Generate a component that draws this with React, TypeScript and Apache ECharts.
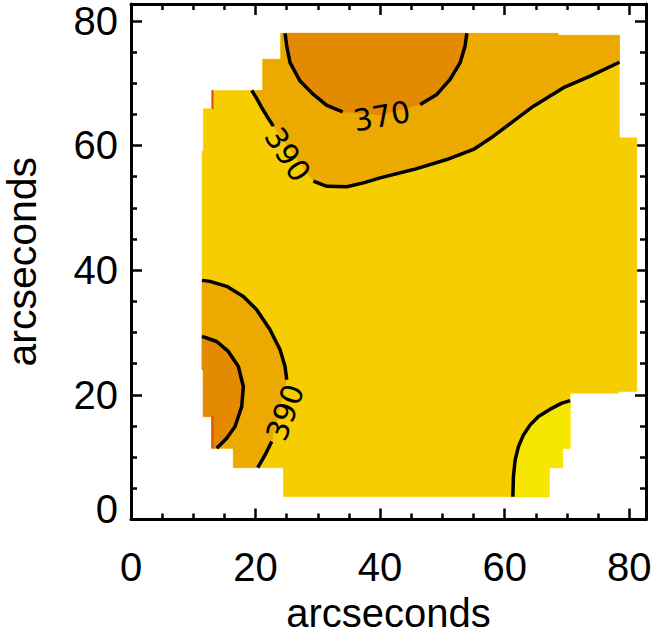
import React, { useEffect, useRef } from "react";
import * as echarts from "echarts";

// ---------- data (arcseconds) ----------
const AXIS_MIN = 0;
const AXIS_MAX = 82.7;
const TICK_INTERVAL = 20;

// contour levels
const levels = [370, 390, 410];

// outline of the area with data
const coverage: number[][] = [
  [24.05, 77.99], [68.59, 77.99], [68.59, 77.67], [78.44, 77.67], [78.44, 61.24],
  [81.24, 61.24], [81.24, 20.53], [78.28, 20.53], [78.28, 20.27], [70.52, 20.27],
  [70.52, 11.44], [69.29, 11.44], [69.29, 8.32], [67.15, 8.32], [67.15, 3.66],
  [24.47, 3.66], [24.47, 8.32], [16.43, 8.32], [16.43, 11.44], [12.96, 11.44],
  [12.96, 16.51], [11.61, 16.51], [11.61, 24.02], [11.41, 24.02], [11.41, 59.08],
  [11.61, 59.08], [11.61, 65.9], [12.96, 65.9], [12.96, 68.84], [21.16, 68.84],
  [21.16, 73.82], [24.05, 73.82],
];
const coverageTopCorner: number[][] = [
  [78.44, 77.67], [68.59, 77.67], [68.59, 77.99], [24.05, 77.99], [24.05, 73.82],
  [21.16, 73.82], [21.16, 68.84],
];
const coverageLeftCorner: number[][] = [
  [16.43, 8.32], [16.43, 11.44], [12.96, 11.44], [12.96, 16.51], [11.61, 16.51],
  [11.61, 24.02], [11.41, 24.02],
];
const coverageInnerCorner: number[][] = [
  [12.96, 11.44], [12.96, 16.51], [11.61, 16.51], [11.61, 24.02], [11.41, 24.02],
];
const coverageRightCorner: number[][] = [
  [67.15, 3.66], [67.15, 8.32], [69.29, 8.32], [69.29, 11.44], [70.52, 11.44],
];
const edgeStrips: number[][][] = [
  [[12.96, 68.84], [13.22, 68.84], [13.22, 65.9], [12.96, 65.9]],
  [[12.96, 16.51], [13.22, 16.51], [13.22, 11.44], [12.96, 11.44]],
];

// contour 390 (top), split where the label sits
const top390A: number[][] = [
  [19.39, 68.84], [20.08, 67.71], [21.0, 66.06], [21.85, 64.66], [22.86, 63.1],
];
const top390B: number[][] = [
  [29.29, 54.27], [31.44, 53.46], [34.65, 53.37], [37.32, 54.01], [40.0, 54.81],
  [45.35, 56.14], [50.71, 57.75], [54.99, 59.36], [58.2, 61.49], [61.41, 63.9],
  [64.63, 66.31], [69.45, 69.27], [73.73, 71.13], [78.44, 73.35],
];
// contour 370 (top)
const top370A: number[][] = [
  [24.74, 77.99], [25.01, 75.95], [25.54, 73.29], [27.15, 70.33], [29.29, 68.19],
  [31.44, 66.43], [34.0, 65.4],
];
const top370Gap: number[][] = [[40.0, 64.9]];
const top370B: number[][] = [
  [46.43, 66.59], [49.11, 68.19], [51.24, 70.6], [52.85, 73.29], [53.65, 75.95],
  [53.93, 77.99],
];
// contour 390 (lower left)
const left390A: number[][] = [
  [11.41, 38.36], [12.69, 38.2], [15.37, 37.4], [18.04, 35.79], [20.19, 33.65],
  [22.33, 30.44], [23.94, 27.23], [24.74, 24.55], [25.01, 22.41],
];
const left390B: number[][] = [[22.6, 12.5], [21.53, 10.36], [20.36, 8.32]];
// contour 370 (lower left)
const left370: number[][] = [
  [11.41, 29.37], [13.77, 28.56], [15.63, 26.96], [17.24, 24.55], [18.04, 21.33],
  [17.78, 18.12], [16.71, 14.91], [15.37, 13.04], [13.77, 11.44],
];
// contour 410 (lower right)
const right410: number[][] = [
  [70.52, 19.08], [69.19, 18.67], [67.31, 17.7], [65.43, 16.51], [64.1, 15.18],
  [63.02, 13.57], [62.22, 11.69], [61.69, 9.56], [61.41, 6.88], [61.32, 3.66],
];

// contour labels: x, y, level, angle (deg)
const contourLabels: number[][] = [
  [40.27, 64.71, 370, 10],
  [25.14, 58.55, 390, -57],
  [24.74, 17.19, 390, 70],
];

// ---------- styles ----------
const C_LOW = "#E38A00";
const C_MID = "#ECAA00";
const C_BASE = "#F6CD00";
const C_HIGH = "#F6E600";
const C_EDGE = "#E4560A";
const AXIS_FONT = "'Liberation Sans', Arial, sans-serif";
const LABEL_FONT = "'DejaVu Sans', sans-serif";

function polygonSeries(points: number[][], color: string, z: number) {
  return {
    type: "custom",
    z,
    silent: true,
    data: [points[0]],
    encode: { x: 0, y: 1 },
    renderItem: (_p: any, api: any) => ({
      type: "polygon",
      shape: { points: points.map((pt) => api.coord(pt)) },
      style: { fill: color, stroke: color, lineWidth: 0.5 },
    }),
  };
}

function lineSeries(points: number[][]) {
  return {
    type: "line",
    z: 5,
    silent: true,
    symbol: "none",
    showSymbol: false,
    data: points,
    lineStyle: { color: "#000", width: 3.5 },
  };
}

function axis(position: string, withLabels: boolean, isX: boolean) {
  const common: any = {
    type: "value",
    min: AXIS_MIN,
    max: AXIS_MAX,
    interval: TICK_INTERVAL,
    position,
    axisLine: { show: true, onZero: false, lineStyle: { color: "#000", width: 3 } },
    axisTick: { show: true, inside: true, length: 11, lineStyle: { color: "#000", width: 2.5 } },
    minorTick: { show: true, splitNumber: 4, length: 6, lineStyle: { color: "#000", width: 2.5 } },
    splitLine: { show: false },
    minorSplitLine: { show: false },
    axisLabel: { show: false },
  };
  if (withLabels) {
    common.name = "arcseconds";
    common.nameLocation = "middle";
    common.nameGap = isX ? 75 : 91;
    common.nameTextStyle = { fontFamily: AXIS_FONT, fontSize: isX ? 40 : 41, color: "#000", lineHeight: 36 };
    common.axisLabel = {
      show: true,
      margin: isX ? 31 : 13,
      fontFamily: AXIS_FONT,
      fontSize: 40,
      lineHeight: 32,
      color: "#000",
      formatter: (v: number) =>
        v % TICK_INTERVAL !== 0 ? "" : !isX && v === 0 ? "{lift|0}" : String(v),
      rich: {
        lift: { fontFamily: AXIS_FONT, fontSize: 40, lineHeight: 32, color: "#000", padding: [0, 0, 22, 0] },
      },
    };
  }
  return common;
}

export default function App() {
  const ref = useRef<HTMLDivElement>(null);
  useEffect(() => {
    if (!ref.current) return;
    const chart = echarts.init(ref.current, null, { renderer: "svg" });
    const regionTopBand = [...top390A, ...top390B, ...coverageTopCorner];
    const regionTopCore = [...top370A, ...top370Gap, ...top370B];
    const regionLeftBand = [...left390A, ...left390B, ...coverageLeftCorner];
    const regionLeftCore = [...left370, ...coverageInnerCorner];
    const regionRightHigh = [...right410, ...coverageRightCorner];
    const option: any = {
      animation: false,
      backgroundColor: "#fff",
      grid: { left: 131, top: 4, width: 515, height: 515.5, containLabel: false, outerBoundsMode: "none" },
      xAxis: [axis("bottom", true, true), axis("top", false, true)],
      yAxis: [axis("left", true, false), axis("right", false, false)],
      series: [
        polygonSeries(coverage, C_BASE, 1),
        polygonSeries(regionTopBand, C_MID, 2),
        polygonSeries(regionTopCore, C_LOW, 3),
        polygonSeries(regionLeftBand, C_MID, 2),
        polygonSeries(regionLeftCore, C_LOW, 3),
        polygonSeries(regionRightHigh, C_HIGH, 2),
        ...edgeStrips.map((s) => polygonSeries(s, C_EDGE, 4)),
        lineSeries(top390A),
        lineSeries(top390B),
        lineSeries(top370A),
        lineSeries(top370B),
        lineSeries(left390A),
        lineSeries(left390B),
        lineSeries(left370),
        lineSeries(right410),
        {
          type: "custom",
          z: 6,
          silent: true,
          data: contourLabels,
          encode: { x: 0, y: 1 },
          renderItem: (_p: any, api: any) => {
            const pt = api.coord([api.value(0), api.value(1)]);
            return {
              type: "text",
              x: pt[0],
              y: pt[1],
              rotation: (api.value(3) * Math.PI) / 180,
              style: {
                text: String(api.value(2)),
                fontFamily: LABEL_FONT,
                fontSize: 30,
                fill: "#000",
                align: "center",
                verticalAlign: "middle",
              },
            };
          },
        },
      ],
    };
    chart.setOption(option);
    return () => chart.dispose();
  }, []);
  return (
    <div
      ref={ref}
      data-levels={levels.join(",")}
      style={{ position: "fixed", left: 0, top: 0, width: 658, height: 636 }}
    />
  );
}
